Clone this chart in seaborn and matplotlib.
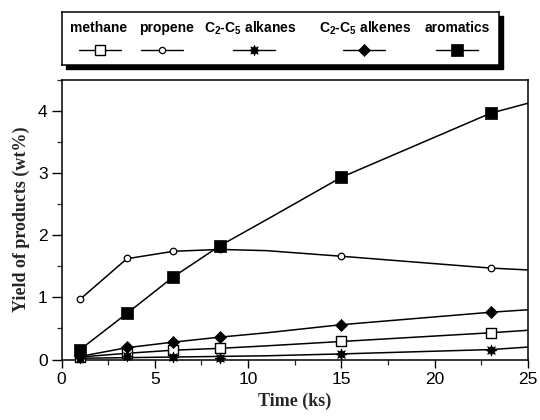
import numpy as np
import pandas as pd
import seaborn as sns
import matplotlib
matplotlib.use("Agg")
import matplotlib.pyplot as plt
from matplotlib.lines import Line2D
from matplotlib.patches import Rectangle
from matplotlib.ticker import MultipleLocator

# Product yields (wt%) measured at each reaction time (ks)
time = [1, 3.5, 6, 8.5, 15, 23]
methane = [0.04, 0.10, 0.15, 0.18, 0.29, 0.43]
propene = [0.97, 1.63, 1.75, 1.77, 1.66, 1.47]
alkanes = [0.02, 0.05, 0.04, 0.03, 0.09, 0.16]
alkenes = [0.05, 0.20, 0.28, 0.36, 0.56, 0.76]
aromatics = [0.16, 0.74, 1.33, 1.83, 2.93, 3.96]

# Smoothed trend curves drawn through the measurements
curve_time = [1, 3.5, 6, 8.5, 11, 15, 23, 25]
methane_curve = [0.04, 0.10, 0.15, 0.18, 0.22, 0.29, 0.43, 0.47]
propene_curve = [0.97, 1.62, 1.74, 1.77, 1.75, 1.66, 1.47, 1.44]
alkanes_curve = [0.02, 0.03, 0.04, 0.05, 0.06, 0.09, 0.16, 0.20]
alkenes_curve = [0.05, 0.19, 0.28, 0.36, 0.43, 0.56, 0.76, 0.80]
aromatics_curve = [0.16, 0.74, 1.33, 1.83, 2.25, 2.93, 3.96, 4.12]

labels = ["methane", "propene", "C$_{2}$-C$_{5}$ alkanes", "C$_{2}$-C$_{5}$ alkenes", "aromatics"]
points = [methane, propene, alkanes, alkenes, aromatics]
curves = [methane_curve, propene_curve, alkanes_curve, alkenes_curve, aromatics_curve]

star8 = (8, 1, 0)
styles = [
    dict(marker="s", s=55, facecolor="white", edgecolor="black", linewidth=1.0),
    dict(marker="o", s=22, facecolor="white", edgecolor="black", linewidth=0.9),
    dict(marker=star8, s=60, facecolor="black", edgecolor="black", linewidth=0.6),
    dict(marker="D", s=38, facecolor="black", edgecolor="black", linewidth=0.5),
    dict(marker="s", s=80, facecolor="black", edgecolor="black", linewidth=0.5),
]
legend_ms = [7.5, 4.5, 7.5, 6, 8.5]

sns.set_theme(style="ticks")
plt.rcParams["font.family"] = ["Liberation Sans", "DejaVu Sans"]
plt.rcParams["mathtext.fontset"] = "custom"
plt.rcParams["mathtext.rm"] = "Liberation Sans:bold"
plt.rcParams["mathtext.it"] = "Liberation Sans:bold"
plt.rcParams["mathtext.bf"] = "Liberation Sans:bold"

fig = plt.figure(figsize=(5.4, 4.2), dpi=100)
ax = fig.add_axes([0.1139, 0.144, 0.8639, 0.6665])

for crv in curves:
    dfc = pd.DataFrame({"t": curve_time, "y": crv})
    sns.lineplot(data=dfc, x="t", y="y", ax=ax, color="black", linewidth=1.1,
                 zorder=2, legend=False)
for pts, st in zip(points, styles):
    dfp = pd.DataFrame({"t": time, "y": pts})
    sns.scatterplot(data=dfp, x="t", y="y", ax=ax, marker=st["marker"], s=st["s"],
                    facecolor=st["facecolor"], edgecolor=st["edgecolor"],
                    linewidth=st["linewidth"], zorder=3, legend=False, clip_on=False)

ax.set_xlim(0, 25)
ax.set_ylim(0, 4.5)
ax.xaxis.set_major_locator(MultipleLocator(5))
ax.xaxis.set_minor_locator(MultipleLocator(2.5))
ax.yaxis.set_major_locator(MultipleLocator(1))
ax.yaxis.set_minor_locator(MultipleLocator(0.5))
ax.tick_params(axis="both", which="major", direction="out", length=6, width=1.0,
               labelsize=12.5, colors="black", pad=3)
ax.tick_params(axis="y", which="major", length=7)
ax.tick_params(axis="both", which="minor", direction="out", length=3.5, width=0.9)
for sp in ax.spines.values():
    sp.set_visible(True)
    sp.set_linewidth(1.1)
    sp.set_color("black")

ax.set_xlabel("Time (ks)", fontfamily="Liberation Serif", fontweight="bold",
              fontsize=13, labelpad=4)
ax.set_ylabel("Yield of products (wt%)", fontfamily="Liberation Serif",
              fontweight="bold", fontsize=13, labelpad=6)

# Legend box with drop shadow, labels placed above their handles
lx0, ly0, lw, lh = 62 / 540, 1 - 65 / 420, 437 / 540, 53 / 420
shadow = Rectangle((lx0 + 4 / 540, ly0 - 4 / 420), lw, lh, transform=fig.transFigure,
                   facecolor="black", edgecolor="black", zorder=1)
fig.patches.append(shadow)
lax = fig.add_axes([lx0, ly0, lw, lh], zorder=5)
lax.set_xlim(0, lw * 540)
lax.set_ylim(0, lh * 420)
lax.set_xticks([])
lax.set_yticks([])
lax.set_facecolor("white")
for sp in lax.spines.values():
    sp.set_linewidth(1.1)
    sp.set_color("black")

label_cx = [99, 166, 250, 365, 457]
handle_cx = [100, 162, 254, 364, 457]
for lab, cx, hx, st, ms in zip(labels, label_cx, handle_cx, styles, legend_ms):
    lax.text(cx - 62, 53 - 16, lab, ha="center", va="center", fontsize=10,
             fontweight="bold", color="black")
    lax.add_line(Line2D([hx - 62 - 21, hx - 62 + 21], [53 - 38, 53 - 38],
                        color="black", linewidth=1.0))
    lax.plot([hx - 62], [53 - 38], linestyle="none", marker=st["marker"], markersize=ms,
             markerfacecolor=st["facecolor"], markeredgecolor="black",
             markeredgewidth=st["linewidth"])

fig.savefig("out.png", dpi=100, facecolor="white")
